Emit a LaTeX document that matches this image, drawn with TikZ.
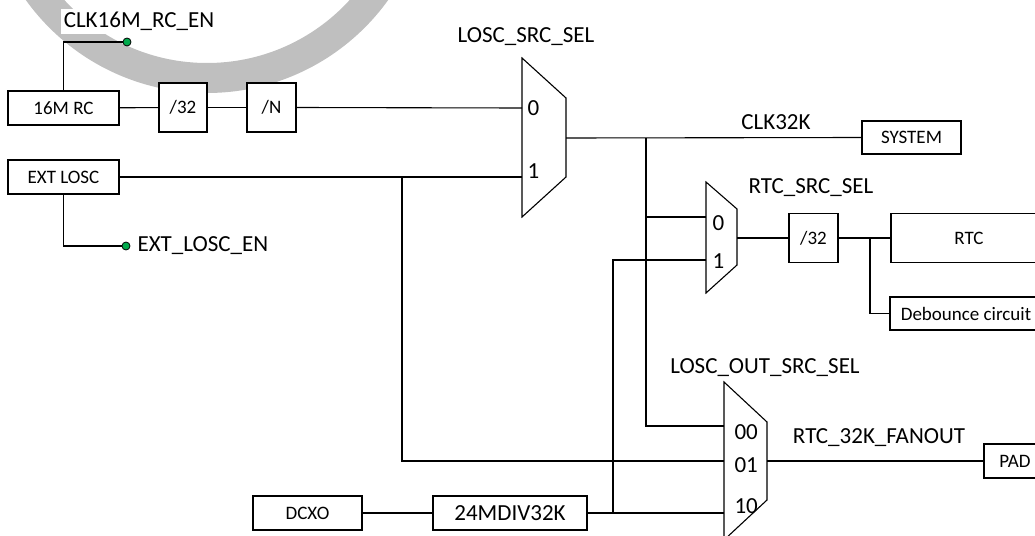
\documentclass[tikz,border=0pt]{standalone}
\usepackage{fontspec}
\setmainfont{Carlito}
\usetikzlibrary{positioning}
\definecolor{engreen}{RGB}{0,170,75}

\begin{document}
\begin{tikzpicture}[x=1pt,y=-1pt,line width=1.1pt,
  blk/.style={draw,fill=white,inner sep=0pt,font=\fontsize{19}{22}\selectfont},
  lbl/.style={inner sep=0pt,anchor=base,font=\fontsize{23}{27}\selectfont},
  pin/.style={inner sep=0pt,anchor=base west,font=\fontsize{23}{27}\selectfont},
  en/.style={circle,draw,line width=0.8pt,fill=engreen,inner sep=0pt,minimum size=8pt}]
  \useasboundingbox (0,0) rectangle (1035,535);
  % watermark
  \draw[black!25,line width=30pt] (207,-130) circle[radius=208];
  % blocks
  \node[blk,minimum width=111pt,minimum height=34pt] (rc) at (63.5,108) {16M RC};
  \node[blk,minimum width=48pt,minimum height=49pt] (divA) at (183,107.5) {/32};
  \node[blk,minimum width=49pt,minimum height=49pt] (divN) at (271.5,107.5) {/N};
  \node[blk,minimum width=111pt,minimum height=34pt] (ext) at (63.5,177) {EXT LOSC};
  \node[blk,minimum width=99pt,minimum height=33pt] (sys) at (911.5,137.5) {SYSTEM};
  \node[blk,minimum width=49pt,minimum height=49pt] (divB) at (813.5,238) {/32};
  \node[blk,minimum width=156pt,minimum height=49pt] (rtc) at (969,238) {RTC};
  \node[blk,minimum width=152pt,minimum height=33pt] (deb) at (966,313.5) {Debounce circuit};
  \node[blk,minimum width=62pt,minimum height=34pt] (pad) at (1015,461) {PAD};
  \node[blk,minimum width=109pt,minimum height=34pt] (dcxo) at (307.5,513) {DCXO};
  \node[blk,minimum width=154pt,minimum height=34pt,font=\fontsize{23}{27}\selectfont] (div24) at (510,513) {24MDIV32K};
  % muxes
  \draw (522,58) -- (566,98) -- (566,177) -- (522,217) -- cycle;
  \draw (706,182) -- (737,209) -- (737,265) -- (706,293) -- cycle;
  \draw (724,382) -- (767,422) -- (767,500) -- (724,540) -- cycle;
  \coordinate (m1a) at (522,108); \coordinate (m1b) at (522,177); \coordinate (m1o) at (566,138);
  \coordinate (m2a) at (706,217); \coordinate (m2b) at (706,260); \coordinate (m2o) at (737,238);
  \coordinate (m3a) at (724,426); \coordinate (m3b) at (724,461); \coordinate (m3c) at (724,513);
  \coordinate (m3o) at (767,461);
  \node[pin] (p10) at (527,115) {0};
  \node[pin] (p11) at (527,178) {1};
  \node[pin] (p20) at (712,230) {0};
  \node[pin] (p21) at (712,268) {1};
  \node[pin] (p300) at (734,439) {00};
  \node[pin] (p301) at (734,472) {01};
  \node[pin] (p310) at (734,513) {10};
  % enables
  \node[en] (rcen) at (127,42) {};
  \node[en] (exten) at (126,246) {};
  \node[lbl,fill=white,inner sep=3pt] (rcenl) at (139,28) {CLK16M\_RC\_EN};
  \node[pin,anchor=west] (extenl) at (137,246) {EXT\_LOSC\_EN};
  \draw (rc.north) |- (rcen);
  \draw (ext.south) |- (exten);
  % labels
  \node[lbl] (s1) at (526,42) {LOSC\_SRC\_SEL};
  \node[lbl] (ck) at (776,129) {CLK32K};
  \node[lbl] (s2) at (811,193) {RTC\_SRC\_SEL};
  \node[lbl] (s3) at (765,373) {LOSC\_OUT\_SRC\_SEL};
  \node[lbl] (fo) at (879,443) {RTC\_32K\_FANOUT};
  % wires
  \draw (rc) -- (divA);
  \draw (divA) -- (divN);
  \draw (divN.east) -- (m1a);
  \draw (ext.east) -- (m1b);
  \draw (m1o) -- (sys.west);
  \coordinate (jA) at (646,138);
  \draw (jA) |- (m3a);
  \draw (jA |- m2a) -- (m2a);
  \draw (m2o) -- (divB.west);
  \draw (divB) -- (rtc);
  \coordinate (jD) at (870,238);
  \draw (jD) |- (deb.west);
  \coordinate (jB) at (402,177);
  \draw (jB) |- (m3b);
  \draw (dcxo) -- (div24);
  \draw (div24.east) -- (m3c);
  \coordinate (jC) at (613,513);
  \draw (jC) |- (m2b);
  \draw (m3o) -- (pad.west);
\end{tikzpicture}
\end{document}
